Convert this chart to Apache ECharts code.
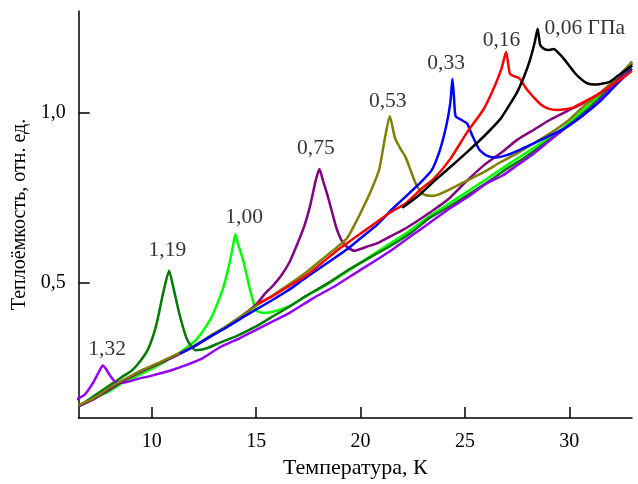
<!DOCTYPE html>
<html>
<head>
<meta charset="utf-8">
<script src="https://cdn.jsdelivr.net/npm/echarts@6/dist/echarts.min.js"></script>
<style>html,body{margin:0;padding:0;background:#fff}#chart{width:638px;height:484px}</style>
</head>
<body>
<div id="chart"></div>
<script>
// ---- Data (temperature K, heat capacity rel. units) ----
var T_132 = [6.4, 6.8, 7.2, 7.5, 7.65, 7.8, 8.0, 8.3, 8.7, 9.3, 10.0, 10.9, 11.6, 12.4, 13.3, 14.2, 15.0, 15.7, 16.6, 17.7, 18.8, 19.7, 20.6, 21.6, 22.5, 23.3, 24.2, 25.1, 26.0, 26.8, 27.5, 28.3, 29.0, 29.8, 30.7, 31.5, 32.3, 33.0];
var C_132 = [0.155, 0.17, 0.205, 0.24, 0.255, 0.245, 0.225, 0.205, 0.205, 0.215, 0.225, 0.24, 0.255, 0.275, 0.31, 0.335, 0.36, 0.382, 0.41, 0.452, 0.49, 0.525, 0.56, 0.6, 0.64, 0.675, 0.715, 0.75, 0.79, 0.815, 0.845, 0.88, 0.915, 0.955, 0.995, 1.04, 1.095, 1.15];

var T_119 = [6.5, 7.0, 7.7, 8.2, 8.6, 9.0, 9.3, 9.8, 10.2, 10.55, 10.83, 11.05, 11.35, 11.7, 12.1, 12.6, 13.3, 14.0, 14.4, 15.0, 15.7, 16.5, 17.4, 18.5, 19.5, 20.5, 21.5, 22.5, 23.3, 24.3, 25.2, 26.2, 27.0, 27.8, 28.7, 29.6, 30.5, 31.4, 32.2, 33.0];
var C_119 = [0.135, 0.155, 0.185, 0.205, 0.222, 0.238, 0.256, 0.3, 0.37, 0.47, 0.534, 0.48, 0.40, 0.33, 0.30, 0.305, 0.323, 0.34, 0.352, 0.37, 0.396, 0.425, 0.46, 0.5, 0.54, 0.575, 0.61, 0.65, 0.69, 0.725, 0.76, 0.8, 0.835, 0.865, 0.905, 0.945, 0.99, 1.04, 1.09, 1.14];

var T_100 = [6.5, 7.0, 7.5, 8.0, 8.5, 9.0, 9.5, 10.0, 10.5, 11.0, 11.5, 12.15, 12.8, 13.4, 13.7, 13.9, 14.0, 14.15, 14.4, 14.7, 15.0, 15.3, 15.7, 16.6, 17.4, 18.3, 19.3, 20.3, 21.3, 22.3, 23.3, 24.3, 25.3, 26.4, 27.5, 28.5, 29.6, 30.7, 31.8, 33.0];
var C_100 = [0.135, 0.15, 0.165, 0.18, 0.2, 0.215, 0.23, 0.245, 0.262, 0.28, 0.3, 0.332, 0.39, 0.48, 0.55, 0.61, 0.642, 0.61, 0.56, 0.48, 0.418, 0.41, 0.412, 0.43, 0.46, 0.49, 0.53, 0.57, 0.61, 0.65, 0.695, 0.735, 0.775, 0.82, 0.865, 0.905, 0.95, 1.01, 1.07, 1.14];

var T_075 = [6.5, 7.2, 8.0, 8.8, 9.6, 10.4, 11.2, 12.0, 12.8, 13.6, 14.4, 15.0, 15.4, 15.8, 16.2, 16.6, 16.95, 17.3, 17.6, 17.85, 18.03, 18.2, 18.4, 18.6, 18.86, 19.2, 19.7, 20.3, 20.9, 21.5, 22.1, 22.7, 23.3, 24.2, 25.1, 26.0, 26.8, 27.5, 28.3, 29.1, 29.9, 30.7, 31.5, 32.3, 33.0];
var C_075 = [0.135, 0.155, 0.185, 0.215, 0.24, 0.262, 0.285, 0.31, 0.34, 0.37, 0.405, 0.435, 0.465, 0.49, 0.52, 0.56, 0.61, 0.665, 0.73, 0.8, 0.834, 0.8, 0.76, 0.715, 0.657, 0.613, 0.593, 0.605, 0.618, 0.638, 0.657, 0.68, 0.705, 0.745, 0.8, 0.85, 0.885, 0.92, 0.95, 0.98, 1.005, 1.03, 1.06, 1.1, 1.145];

var T_053 = [6.5, 7.2, 8.0, 8.8, 9.6, 10.4, 11.2, 12.0, 12.8, 13.6, 14.4, 15.0, 15.8, 16.6, 17.4, 18.1, 18.8, 19.35, 19.8, 20.2, 20.6, 20.9, 21.15, 21.4, 21.65, 21.9, 22.15, 22.4, 22.65, 23.0, 23.5, 24.3, 25.1, 25.9, 26.7, 27.5, 28.3, 29.1, 29.9, 30.7, 31.5, 32.3, 33.0];
var C_053 = [0.138, 0.158, 0.19, 0.218, 0.243, 0.265, 0.288, 0.312, 0.342, 0.372, 0.405, 0.431, 0.462, 0.495, 0.53, 0.565, 0.6, 0.63, 0.68, 0.73, 0.785, 0.835, 0.92, 0.99, 0.925, 0.895, 0.87, 0.83, 0.79, 0.76, 0.755, 0.775, 0.8, 0.825, 0.854, 0.88, 0.91, 0.94, 0.975, 1.02, 1.06, 1.105, 1.15];

var T_033 = [11.35, 12.0, 12.8, 13.6, 14.4, 15.0, 15.7, 16.5, 17.3, 18.0, 18.6, 19.3, 20.0, 20.8, 21.5, 22.2, 22.8, 23.4, 23.8, 24.1, 24.3, 24.4, 24.48, 24.55, 24.8, 25.1, 25.35, 25.7, 26.1, 26.5, 27.0, 27.6, 28.3, 29.0, 29.8, 30.6, 31.4, 32.2, 33.0];
var C_033 = [0.29, 0.31, 0.34, 0.368, 0.398, 0.42, 0.445, 0.475, 0.51, 0.54, 0.565, 0.595, 0.63, 0.67, 0.715, 0.755, 0.79, 0.83, 0.89, 0.96, 1.03, 1.1, 1.04, 0.99, 0.98, 0.968, 0.933, 0.89, 0.872, 0.868, 0.875, 0.89, 0.91, 0.93, 0.955, 0.99, 1.03, 1.08, 1.13];

var T_016 = [15.03, 15.8, 16.6, 17.4, 18.2, 19.0, 19.8, 20.6, 21.4, 22.2, 22.9, 23.5, 24.3, 25.1, 25.9, 26.4, 26.75, 26.97, 27.15, 27.35, 27.6, 27.95, 28.3, 28.6, 29.0, 29.4, 29.8, 30.2, 30.8, 31.4, 32.0, 32.5, 33.0];
var C_016 = [0.436, 0.46, 0.49, 0.52, 0.56, 0.6, 0.635, 0.67, 0.705, 0.735, 0.775, 0.805, 0.864, 0.942, 1.011, 1.075, 1.13, 1.179, 1.115, 1.108, 1.102, 1.07, 1.045, 1.026, 1.012, 1.008, 1.01, 1.016, 1.035, 1.055, 1.08, 1.1, 1.124];

var T_006 = [22.0, 22.8, 23.5, 24.3, 25.1, 25.9, 26.7, 27.1, 27.5, 27.85, 28.13, 28.35, 28.48, 28.6, 28.75, 29.0, 29.25, 29.5, 29.75, 30.0, 30.25, 30.55, 30.85, 31.2, 31.5, 31.9, 32.3, 32.7, 33.0];
var C_006 = [0.72, 0.757, 0.797, 0.84, 0.884, 0.93, 0.982, 1.02, 1.061, 1.11, 1.159, 1.21, 1.248, 1.2, 1.19, 1.185, 1.188, 1.175, 1.158, 1.138, 1.118, 1.1, 1.087, 1.083, 1.085, 1.09, 1.108, 1.125, 1.139];

// Pressure labels (GPa) and their anchor points in data coordinates
var labelText = ['1,32', '1,19', '1,00', '0,75', '0,53', '0,33', '0,16', '0,06 ГПа'];
var labelT    = [7.86, 10.75, 14.42, 17.86, 21.30, 24.10, 26.75, 30.74];
var labelC    = [0.303, 0.594, 0.693, 0.895, 1.035, 1.146, 1.214, 1.249];

var xTicks = [10, 15, 20, 25, 30];
var yTicks = [0.5, 1.0];

function zip(a, b) { return a.map(function (v, i) { return [v, b[i]]; }); }

var curves = [
  { T: T_100, C: C_100, color: '#00ff00' },
  { T: T_119, C: C_119, color: '#007a00' },
  { T: T_132, C: C_132, color: '#9400f5' },
  { T: T_075, C: C_075, color: '#800080' },
  { T: T_053, C: C_053, color: '#808000' },
  { T: T_033, C: C_033, color: '#0000ff' },
  { T: T_016, C: C_016, color: '#ff0000' },
  { T: T_006, C: C_006, color: '#000000' }
];

var serif = 'Liberation Serif, Times New Roman, serif';

var series = curves.map(function (c) {
  return {
    type: 'line', data: zip(c.T, c.C), showSymbol: false, symbol: 'none',
    lineStyle: { color: c.color, width: 2.5 }, smooth: 0.2, animation: false, silent: true
  };
});

series.push({
  type: 'scatter', symbolSize: 0, animation: false, silent: true,
  data: labelText.map(function (t, i) { return [labelT[i], labelC[i], t]; }),
  label: {
    show: true, position: 'inside', color: '#000', fontFamily: serif, fontSize: 21.5,
    formatter: function (p) { return p.value[2]; }
  }
});

var chart = echarts.init(document.getElementById('chart'));
chart.setOption({
  animation: false,
  backgroundColor: '#fff',
  grid: { left: 78.7, right: 6, top: 11, bottom: 66 },
  xAxis: {
    type: 'value', min: 6.5, max: 33,
    name: 'Температура, К', nameLocation: 'middle', nameGap: 39,
    nameTextStyle: { fontFamily: serif, fontSize: 22, color: '#000' },
    axisLine: { show: true, lineStyle: { color: '#000', width: 1.5 } },
    axisTick: { show: true, inside: true, length: 11, customValues: xTicks, lineStyle: { color: '#000', width: 1.5 } },
    axisLabel: { customValues: xTicks, margin: 14, fontFamily: serif, fontSize: 20, color: '#000' },
    splitLine: { show: false }
  },
  yAxis: {
    type: 'value', min: 0.1, max: 1.3,
    name: 'Теплоёмкость, отн. ед.', nameLocation: 'middle', nameGap: 49,
    nameTextStyle: { fontFamily: serif, fontSize: 20, color: '#000' },
    axisLine: { show: true, lineStyle: { color: '#000', width: 1.5 } },
    axisTick: { show: true, inside: true, length: 11, customValues: yTicks, lineStyle: { color: '#000', width: 1.5 } },
    axisLabel: {
      customValues: yTicks, margin: 13, fontFamily: serif, fontSize: 20, color: '#000',
      formatter: function (v) { return v.toFixed(1).replace('.', ','); }
    },
    splitLine: { show: false }
  },
  series: series
});
</script>
</body>
</html>
